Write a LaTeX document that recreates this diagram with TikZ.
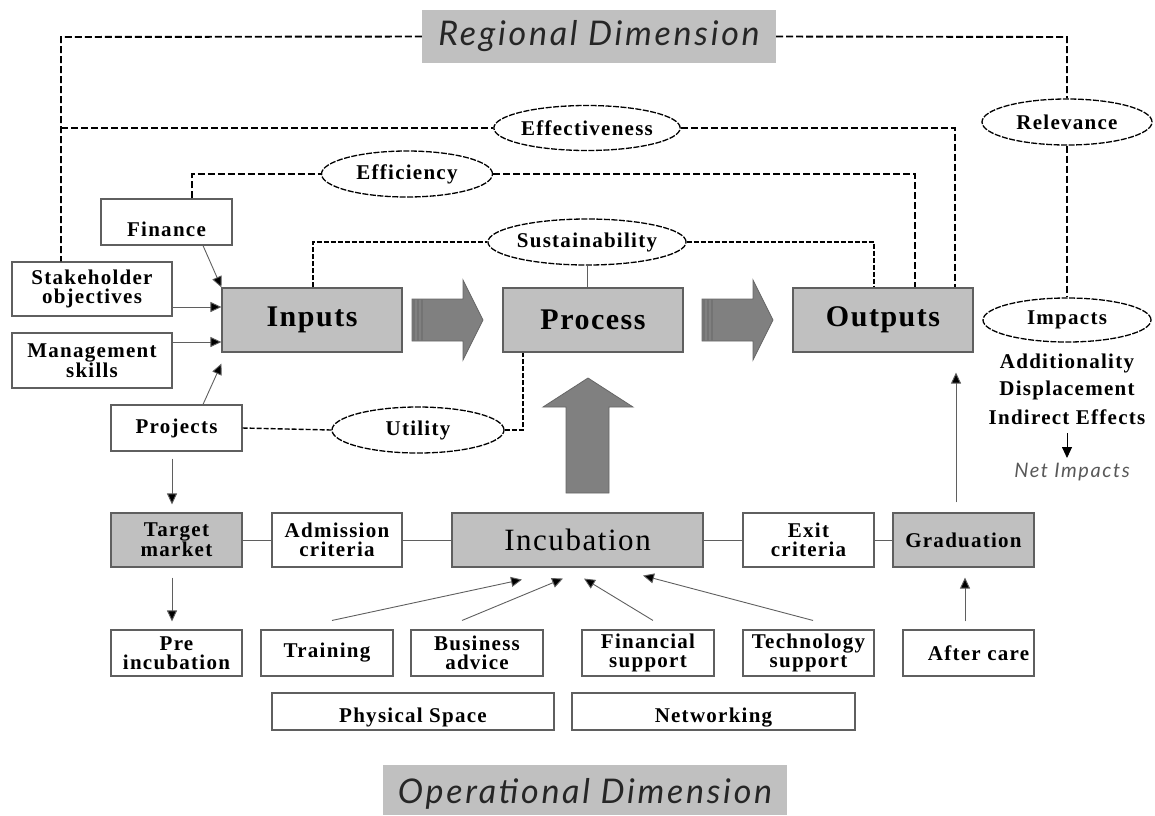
\documentclass[tikz,border=0pt]{standalone}
\usepackage{fontspec}
\setmainfont{Liberation Serif}
\newfontfamily\lbl[LetterSpace=6]{Liberation Serif}
\newfontfamily\mainlbl[LetterSpace=5]{Liberation Serif}
\newfontfamily\dimfont[LetterSpace=8]{Lato}
\usetikzlibrary{shapes.geometric,arrows.meta}
\definecolor{boxgray}{RGB}{192,192,192}
\definecolor{arrowgray}{RGB}{128,128,128}
\definecolor{edgegray}{RGB}{95,95,95}
\newcommand\txtdown[2]{\raisebox{-#1}[\height][\depth]{#2}}
\begin{document}
\begin{tikzpicture}[x=1pt,y=-1pt,
  box/.style={draw=edgegray, line width=1.1pt, rectangle, inner sep=0pt, align=center,
    font=\lbl\bfseries\fontsize{21}{19}\selectfont},
  gbox/.style={box, fill=boxgray},
  big/.style={gbox, font=\mainlbl\bfseries\fontsize{30}{32}\selectfont},
  oval/.style={ellipse, draw=black, line width=1.3pt, dash pattern=on 6pt off 1.5pt, inner sep=0pt,
    font=\lbl\bfseries\fontsize{21}{20}\selectfont},
  dline/.style={line width=1.9pt, dash pattern=on 7pt off 3pt},
  tline/.style={line width=1.4pt, dash pattern=on 5pt off 2pt},
  arr/.style={draw=edgegray, line width=0.9pt, -{Triangle[length=11pt,width=10pt,fill=black]}},
  link/.style={draw=edgegray, line width=1pt},
  dim/.style={fill=boxgray, inner sep=0pt, font=\dimfont\itshape\fontsize{34}{36}\selectfont, text=black!85},
  plain/.style={inner sep=0pt, font=\lbl\bfseries\fontsize{21}{20}\selectfont},
  bigarrow/.style={fill=arrowgray, draw=black!60, line width=0.8pt},
]
\useasboundingbox (0,0) rectangle (1155,815);

% dimension banners
\node[dim, minimum width=354pt, minimum height=53pt] (regional) at (599,36.5) {Regional Dimension};
\node[dim, minimum width=404pt, minimum height=50pt] (operational) at (585,790) {\txtdown{4pt}{Operational Dimension}};

% left input boxes
\node[box, minimum width=131pt, minimum height=46pt] (finance) at (166.5,222) {\txtdown{7pt}{Finance}};
\node[box, minimum width=160pt, minimum height=54pt] (stake) at (92,289) {Stakeholder\\objectives};
\node[box, minimum width=160pt, minimum height=55pt] (mgmt) at (92,360.5) {Management\\skills};
\node[box, minimum width=131pt, minimum height=46pt] (projects) at (176.5,428) {Projects};

% main row
\node[big, minimum width=180pt, minimum height=64pt] (inputs) at (312,320) {Inputs};
\node[big, minimum width=180pt, minimum height=64pt] (process) at (593,320) {Process};
\node[big, minimum width=180pt, minimum height=64pt] (outputs) at (883,320) {Outputs};

% ellipses
\node[oval, minimum width=170pt, minimum height=46pt] (relevance) at (1067,122) {Relevance};
\node[oval, minimum width=170pt, minimum height=45pt] (effectiveness) at (587,128) {Effectiveness};
\node[oval, minimum width=171pt, minimum height=46pt] (efficiency) at (407,174) {Efficiency};
\node[oval, minimum width=170pt, minimum height=46pt] (sustain) at (587,242) {Sustainability};
\node[oval, minimum width=172pt, minimum height=46pt] (utility) at (418,430) {Utility};
\node[oval, minimum width=168pt, minimum height=44pt] (impacts) at (1067,320) {Impacts};

% impacts texts
\node[plain] (addi) at (1067,363) {Additionality};
\node[plain] (displ) at (1067,390) {Displacement};
\node[plain] (indir) at (1067,417) {Indirect Effects};
\node[inner sep=0pt, font=\dimfont\itshape\fontsize{20}{20}\selectfont, text=black!65] (netimp) at (1072,472) {Net Impacts};

% incubation row
\node[gbox, minimum width=131pt, minimum height=54pt] (target) at (176.5,540) {Target\\market};
\node[box, minimum width=130pt, minimum height=54pt] (admission) at (337,540) {Admission\\criteria};
\node[gbox, minimum width=251pt, minimum height=54pt, font=\mainlbl\fontsize{31}{32}\selectfont] (incubation) at (577.5,540) {Incubation};
\node[box, minimum width=131pt, minimum height=54pt] (exit) at (808.5,540) {Exit\\criteria};
\node[gbox, minimum width=141pt, minimum height=54pt] (graduation) at (963.5,540) {Graduation};

% services row
\node[box, minimum width=131pt, minimum height=46pt] (preinc) at (176.5,653) {Pre\\incubation};
\node[box, minimum width=132pt, minimum height=46pt] (training) at (327,653) {Training};
\node[box, minimum width=132pt, minimum height=46pt] (business) at (477,653) {Business\\advice};
\node[box, minimum width=132pt, minimum height=46pt] (financial) at (648,653) {Financial\\support};
\node[box, minimum width=131pt, minimum height=46pt] (technology) at (808.5,653) {Technology\\support};
\node[box, minimum width=131pt, minimum height=46pt] (aftercare) at (968.5,653) {\hspace*{20pt}After care};
\node[box, minimum width=282pt, minimum height=37pt] (physical) at (413,711.5) {\txtdown{6pt}{Physical Space}};
\node[box, minimum width=283pt, minimum height=37pt] (networking) at (713.5,711.5) {\txtdown{6pt}{Networking}};

% helper coordinates
\coordinate (rl) at (61,37);
\coordinate (rr) at (1067,37);
\coordinate (ef1) at (955,0);
\coordinate (fi) at (192,0);
\coordinate (eo) at (915,0);
\coordinate (si) at (313,0);
\coordinate (so) at (874,0);
\coordinate (ut) at (523,0);

% dashed evaluation lines
\draw[dline] (regional.west) -- (rl) -- (rl |- stake.north);
\draw[dline] (regional.east) -- (rr) -- (relevance.north);
\draw[dline] (relevance.south) -- (impacts.north);
\draw[dline] (rl |- effectiveness.west) -- (effectiveness.west);
\draw[dline] (effectiveness.east) -- (ef1 |- effectiveness.east) -- (ef1 |- outputs.north);
\draw[dline, line width=2.3pt] (fi |- finance.north) -- (fi |- efficiency.west) -- (efficiency.west);
\draw[dline, line width=2.3pt] (efficiency.east) -- (eo |- efficiency.east) -- (eo |- outputs.north);
\draw[tline] (si |- inputs.north) -- (si |- sustain.west) -- (sustain.west);
\draw[tline] (sustain.east) -- (so |- sustain.east) -- (so |- outputs.north);
\draw[link] (sustain.south) -- (sustain.south |- process.north);
\draw[tline] (projects.east) -- (utility.west);
\draw[tline] (utility.east) -- (ut |- utility.east) -- (ut |- process.south);

% big arrows
\draw[bigarrow] (412,299) -- (463,299) -- (463,280) -- (483,320) -- (463,360) -- (463,341) -- (412,341) -- cycle;
\draw[bigarrow] (702,299) -- (753,299) -- (753,280) -- (773,320) -- (753,360) -- (753,341) -- (702,341) -- cycle;
\foreach \s in {0,290}{
  \foreach \d in {2,6,10}{
    \draw[black!55, line width=1.2pt] (412+\s+\d,299) -- (412+\s+\d,341);
  }
}
\draw[bigarrow] (566,493) -- (566,407) -- (543,407) -- (588,378) -- (633,407) -- (609,407) -- (609,493) -- cycle;

% thin arrows
\draw[arr] ([xshift=36.5pt]finance.south) -- (inputs.north west);
\draw[arr] ([yshift=-18pt]stake.east) coordinate (sa) -- (sa -| inputs.west);
\draw[arr] ([yshift=18.5pt]mgmt.east) coordinate (ma) -- (ma -| inputs.west);
\draw[arr] ([xshift=26.5pt]projects.north) -- ([yshift=-11pt]inputs.south west);
\draw[arr] ([xshift=-4.5pt,yshift=-7pt]projects.south) -- ([xshift=-4.5pt,yshift=8pt]target.north);
\draw[arr] ([xshift=-4.5pt,yshift=-10pt]target.south) -- ([xshift=-4.5pt,yshift=8pt]preinc.north);
\draw[arr] ([xshift=5pt,yshift=9pt]training.north) -- ([xshift=-55.5pt,yshift=-12pt]incubation.south);
\draw[arr] ([xshift=-15pt,yshift=9pt]business.north) -- ([xshift=-14.5pt,yshift=-11pt]incubation.south);
\draw[arr] ([xshift=5pt,yshift=9pt]financial.north) -- ([xshift=6.5pt,yshift=-11pt]incubation.south);
\draw[arr] ([xshift=4.5pt,yshift=9pt]technology.north) -- ([xshift=65.5pt,yshift=-8pt]incubation.south);
\draw[arr] ([xshift=-3.5pt,yshift=8pt]aftercare.north) -- ([xshift=1.5pt,yshift=-10pt]graduation.south);
\draw[arr] ([xshift=-7.5pt,yshift=10pt]graduation.north) -- ([xshift=73pt,yshift=-20pt]outputs.south);
\draw[arr, draw=black] ([yshift=-16pt]indir.center) -- ([yshift=14pt]netimp.center -| indir.center);

% links between incubation stages
\draw[link] (target.east) -- (admission.west);
\draw[link] (admission.east) -- (incubation.west);
\draw[link] (incubation.east) -- (exit.west);
\draw[link] (exit.east) -- (graduation.west);
\end{tikzpicture}
\end{document}
